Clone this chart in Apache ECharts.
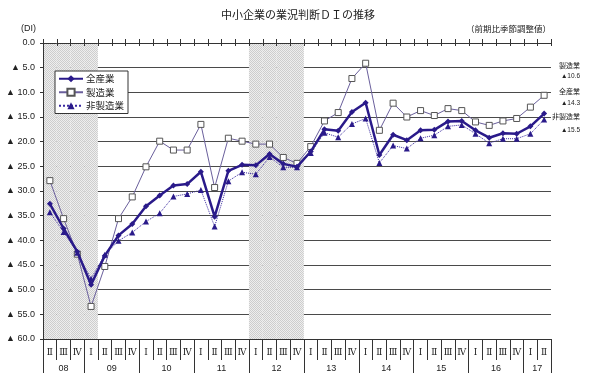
<!DOCTYPE html>
<html><head><meta charset="utf-8">
<script src="https://cdn.jsdelivr.net/npm/echarts@6/dist/echarts.min.js"></script>
<style>html,body{margin:0;padding:0;background:#fff}#c{width:596px;height:382px}</style>
</head><body><div id="c"></div>
<script>
// ---- data ----
const quarterLabels = ['Ⅱ','Ⅲ','Ⅳ','Ⅰ','Ⅱ','Ⅲ','Ⅳ','Ⅰ','Ⅱ','Ⅲ','Ⅳ','Ⅰ','Ⅱ','Ⅲ','Ⅳ','Ⅰ','Ⅱ','Ⅲ','Ⅳ','Ⅰ','Ⅱ','Ⅲ','Ⅳ','Ⅰ','Ⅱ','Ⅲ','Ⅳ','Ⅰ','Ⅱ','Ⅲ','Ⅳ','Ⅰ','Ⅱ','Ⅲ','Ⅳ','Ⅰ','Ⅱ'];
const yearLabels = ['08','09','10','11','12','13','14','15','16','17'];
const yearQuarterCounts = [3,4,4,4,4,4,4,4,4,2];
const allIndustry = [32.6,37.6,42.3,49.0,43.1,39.0,36.7,33.1,30.9,28.9,28.6,26.1,35.2,25.9,24.7,24.8,22.5,24.5,25.1,22.0,17.5,17.8,14.0,12.1,22.7,18.6,19.7,17.7,17.6,15.9,15.8,17.7,19.2,18.3,18.4,16.9,14.3];
const manufacturing = [27.9,35.6,42.8,53.4,45.3,35.6,31.2,25.1,19.9,21.7,21.7,16.5,29.3,19.3,19.9,20.5,20.5,23.2,24.4,21.0,15.8,14.1,7.2,4.1,17.7,12.2,15.0,13.7,14.7,13.3,13.7,16.0,16.7,15.8,15.3,13.0,10.6];
const nonManufacturing = [34.3,38.3,42.5,47.8,42.9,40.1,38.4,36.2,34.5,31.1,30.6,29.8,37.2,28.0,26.2,26.6,23.1,25.2,25.2,22.3,18.2,19.1,16.4,15.3,24.3,20.8,21.4,19.3,18.7,16.9,16.6,18.4,20.3,19.4,19.4,18.4,15.5];
// shaded quarters: 1 = shaded
const shadedQuarters = [1,1,1,1,0,0,0,0,0,0,0,0,0,0,0,1,1,1,1,0,0,0,0,0,0,0,0,0,0,0,0,0,0,0,0,0,0];
const seriesNames = ['全産業','製造業','非製造業'];
const latestLabels = ['▲10.6','▲14.3','▲15.5'];
const yMin = 0, yMax = 60, yStep = 5;

// ---- derived ----
const cats = quarterLabels.map((q,i)=> i + '|' + q);
const shadeData = shadedQuarters.map(s => s ? yMax : '-');
const halfCount = quarterLabels.length * 2 + 1;
const yearCats = new Array(halfCount).fill('');
const boundaries = new Set([0]);
(function(){
  let p = 0;
  yearQuarterCounts.forEach((n,k)=>{ yearCats[p + n] = yearLabels[k]; p += 2*n; boundaries.add(p); });
})();
const yearCatIds = yearCats.map((v,i)=> i + '|' + v);

// dotted pattern for shading
const pc = document.createElement('canvas'); pc.width = 2; pc.height = 2;
const px = pc.getContext('2d');
px.fillStyle = '#eeeeee'; px.fillRect(0,0,2,2);
px.fillStyle = '#cdcdcd'; px.fillRect(0,0,1,1); px.fillRect(1,1,1,1);

const CJK = "'Noto Sans CJK JP','Liberation Sans',sans-serif";
const LAT = "'Liberation Sans','Noto Sans CJK JP',sans-serif";
const INK = '#2a1a8a';
const AX = '#333';
const txt = (fs, fam) => ({fontFamily:fam||CJK, fontSize:fs, fontWeight:'normal', color:'#222'});

const chart = echarts.init(document.getElementById('c'), null, {renderer:'canvas'});
const g = {left:43, right:45, top:43, bottom:43};
chart.setOption({
  animation:false,
  backgroundColor:'#fff',
  title:[
    {text:'中小企業の業況判断ＤＩの推移', left:'center', top:9, padding:0, textStyle:txt(11)},
    {text:'(DI)', left:21, top:24, padding:0, textStyle:txt(9, LAT)},
    {text:'（前期比季節調整値）', right:45, top:25, padding:0, textStyle:txt(8.5)},
    {text:seriesNames[1], right:16, top:62, padding:0, textStyle:txt(7)},
    {text:latestLabels[0], right:16, top:72.5, padding:0, textStyle:txt(6.5, LAT)},
    {text:seriesNames[0], right:16, top:88, padding:0, textStyle:txt(7)},
    {text:latestLabels[1], right:16, top:99.5, padding:0, textStyle:txt(6.5, LAT)},
    {text:seriesNames[2], right:16, top:113, padding:0, textStyle:txt(7)},
    {text:latestLabels[2], right:16, top:127, padding:0, textStyle:txt(6.5, LAT)}
  ],
  legend:{
    data:seriesNames, orient:'vertical', left:55, top:71,
    backgroundColor:'#fff', borderColor:'#333', borderWidth:1, borderRadius:0,
    padding:[3,4,3,3], itemGap:4, itemWidth:24, itemHeight:9,
    textStyle:{fontFamily:CJK, fontSize:9.5, color:'#222', padding:[0,0,0,-2]}
  },
  grid:[Object.assign({}, g), Object.assign({}, g)],
  xAxis:[
    {gridIndex:0, type:'category', data:cats, position:'bottom', boundaryGap:true, z:6,
     axisLine:{onZero:false, lineStyle:{color:AX, width:1}},
     axisTick:{show:true, length:21, lineStyle:{color:AX}},
     axisLabel:{interval:0, margin:9, formatter:v=>v.split('|')[1], fontFamily:"'DejaVu Serif','Liberation Serif',serif", fontSize:9, color:'#222'},
     splitLine:{show:false}},
    {gridIndex:1, type:'category', data:yearCatIds, position:'bottom', boundaryGap:false, z:6,
     axisLine:{show:false, onZero:false},
     axisTick:{show:true, length:34, interval:(i)=>boundaries.has(i), lineStyle:{color:AX}},
     axisLabel:{interval:0, margin:25, formatter:v=>v.split('|')[1], fontFamily:LAT, fontSize:9, color:'#222'},
     splitLine:{show:false}}
  ],
  yAxis:[
    {gridIndex:0, type:'value', min:yMin, max:yMax, interval:yStep, inverse:true, position:'left', z:0,
     axisLine:{show:false, onZero:false},
     axisTick:{show:false},
     axisLabel:{margin:8, fontFamily:LAT, fontSize:9, color:'#222', formatter:v=> v===0 ? '0.0' : '▲ ' + v.toFixed(1)},
     splitLine:{show:true, lineStyle:{color:'#4a4a4a', width:1}}},
    {gridIndex:1, type:'value', min:yMin, max:yMax, interval:yStep, inverse:true, position:'left', z:6,
     axisLine:{show:true, onZero:false, lineStyle:{color:AX, width:1}},
     axisTick:{show:true, length:3, lineStyle:{color:AX}},
     axisLabel:{show:false}, splitLine:{show:false}}
  ],
  series:[
    {name:'shade', type:'bar', xAxisIndex:0, yAxisIndex:0, data:shadeData, barCategoryGap:'0%', z:1, silent:true,
     itemStyle:{color:{image:pc, repeat:'repeat'}}},
    {name:'topTicks', type:'custom', xAxisIndex:0, yAxisIndex:0, z:6, silent:true, clip:false,
     data:cats.map((c,i)=>[i, yMin]),
     renderItem:(params, api)=>{
       const p = api.coord([api.value(0), api.value(1)]);
       const w = api.size([1, 0])[0];
       const children = [];
       const xs = [p[0] - w/2];
       if (params.dataIndex === cats.length - 1) xs.push(p[0] + w/2);
       xs.forEach(x=>{
         const xx = Math.round(x) + 0.5;
         children.push({type:'line', shape:{x1:xx, y1:p[1]-4, x2:xx, y2:p[1]+3}, style:{stroke:AX, lineWidth:1}});
       });
       children.push({type:'line', shape:{x1:p[0]-w/2, y1:Math.round(p[1])+0.5, x2:p[0]+w/2, y2:Math.round(p[1])+0.5}, style:{stroke:AX, lineWidth:1}});
       return {type:'group', children};
     }},
    {name:seriesNames[1], type:'line', xAxisIndex:0, yAxisIndex:0, data:manufacturing, z:3,
     symbol:'rect', symbolSize:6, showAllSymbol:true,
     lineStyle:{color:'#6a5f9c', width:1},
     itemStyle:{color:'#ffffff', borderColor:'#555', borderWidth:1}},
    {name:seriesNames[2], type:'line', xAxisIndex:0, yAxisIndex:0, data:nonManufacturing, z:4,
     symbol:'triangle', symbolSize:6, showAllSymbol:true,
     lineStyle:{color:'#3a2aa0', width:1, type:'dotted'},
     itemStyle:{color:INK}},
    {name:seriesNames[0], type:'line', xAxisIndex:0, yAxisIndex:0, data:allIndustry, z:5,
     symbol:'diamond', symbolSize:6, showAllSymbol:true,
     lineStyle:{color:INK, width:2.5},
     itemStyle:{color:INK}}
  ]
});
</script></body></html>
